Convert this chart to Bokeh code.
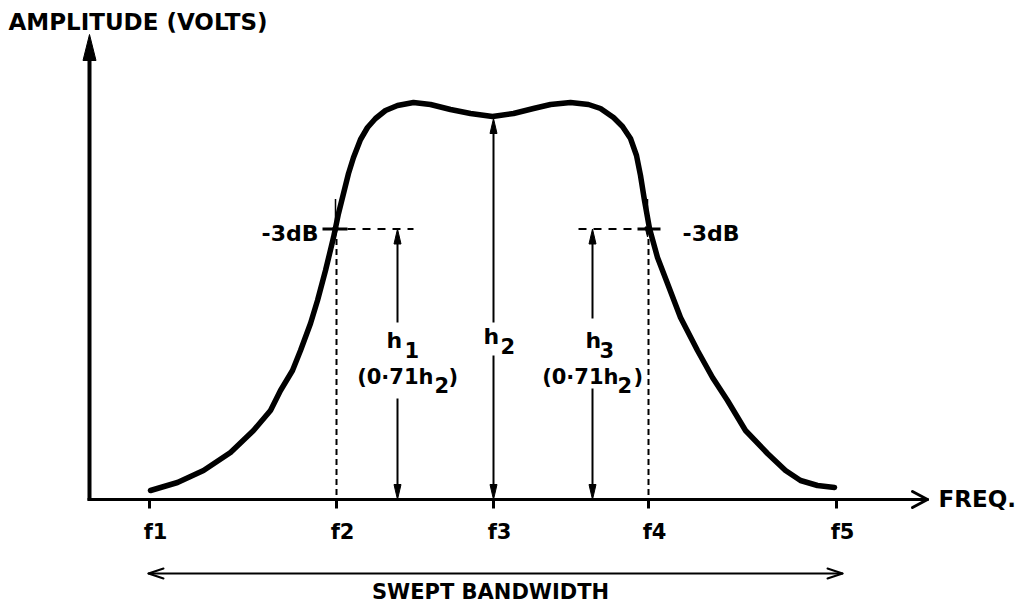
from bokeh.plotting import figure
from bokeh.models import Range1d
from bokeh.core.properties import value
from bokeh.embed import file_html
from bokeh.resources import INLINE

# ---------------- data (frequency units along x, amplitude units along y) ----------------
curve_freq = [61, 88, 114, 141, 164, 181, 191, 203, 211, 221, 228, 236, 244, 249, 254, 259,
              264, 271, 278, 286, 296, 308, 324, 341, 361, 381, 403, 424, 444, 461, 481, 499,
              511, 524, 533, 541, 547, 551, 555, 560, 568, 578, 591, 608, 623, 638, 656, 678,
              696, 711, 728, 745]
curve_amp = [9, 17, 29, 47, 69, 89, 109, 129, 149, 176, 199, 229, 262, 286, 306, 326,
             342, 360, 372, 381, 389, 394, 397, 395, 390, 386, 383, 386, 391, 395, 397, 395,
             391, 382, 373, 361, 344, 324, 299, 271, 242, 216, 182, 149, 122, 99, 69, 46,
             29, 19, 14, 12]

freq_ticks = [60, 247, 404, 559, 747]
tick_labels = ["f1", "f2", "f3", "f4", "f5"]

h2_value = 381           # amplitude at centre frequency f3
ratio_3db = 0.71         # -3 dB point = 0.71 * h2
h1_freq = 308            # where the h1 dimension arrow is drawn
h3_freq = 503            # where the h3 dimension arrow is drawn
y_axis_top = 465
x_axis_end = 838

FONT = value("DejaVu Sans")
level = ratio_3db * h2_value
DY = 7  # text baseline correction

p = figure(width=1019, height=603, output_backend="svg", toolbar_location=None,
           x_range=Range1d(-89, 930), y_range=Range1d(-104, 499),
           x_axis_location=None, y_axis_location=None, min_border=0,
           background_fill_color="white", border_fill_color="white")
p.outline_line_color = None
p.grid.visible = False


def tri(tx, ty, ux, uy, L, W):
    bx, by = tx - ux * L, ty - uy * L
    nx, ny = -uy, ux
    return [tx, bx + nx * W, bx - nx * W], [ty, by + ny * W, by - ny * W]


def vee(tx, ty, ux, uy, L, W):
    bx, by = tx - ux * L, ty - uy * L
    nx, ny = -uy, ux
    return ([[bx + nx * W, tx], [bx - nx * W, tx]], [[by + ny * W, ty], [by - ny * W, ty]])


def ty(vals):
    return [v + DY for v in vals]


# ---------------- axes ----------------
p.line([0, 0], [-1, y_axis_top - 24], line_width=4, line_color="black")
hx, hy = tri(0, y_axis_top, 0, 1, 26, 6.5)
p.patch(hx, hy, fill_color="black", line_color="black", line_width=1)
p.line([-2, x_axis_end - 1], [0, 0], line_width=3, line_color="black")
vx, vy = vee(x_axis_end, 0, 1, 0, 15, 8)
p.multi_line(vx, vy, line_width=3, line_color="black", line_cap="round")

txt = dict(text_font=FONT, text_font_style="bold", text_baseline="alphabetic", text_color="black")

# ticks
p.segment(x0=freq_ticks, y0=[0] * 5, x1=freq_ticks, y1=[-9] * 5, line_width=3, line_color="black")
p.text(x=[f + 6 for f in freq_ticks], y=ty([-39] * 5), text=tick_labels,
       text_font_size="21px", text_align="center", **txt)

# ---------------- response curve ----------------
p.line(curve_freq, curve_amp, line_width=5.5, line_color="black", line_join="round", line_cap="round")

# ---------------- -3 dB markers ----------------
f2, f4 = freq_ticks[1], freq_ticks[3]
p.segment(x0=[f2, f4], y0=[level - 10] * 2, x1=[f2, f4], y1=[0, 0],
          line_width=2, line_color="black", line_dash="6 4")
p.segment(x0=[f2 + 11, f4 - 70], y0=[level] * 2, x1=[f2 + 77, f4 - 11], y1=[level] * 2,
          line_width=2, line_color="black", line_dash="8 7")
p.segment(x0=[f2 - 14, f4 - 11], y0=[level] * 2, x1=[f2 + 11, f4 + 12], y1=[level] * 2,
          line_width=3, line_color="black")
for f in (f2, f4):
    p.line([f - 1, f - 1], [level + 30, level - 5], line_width=1.5, line_color="black")
    ax, ay = tri(f - 1, level - 8, 0, -1, 10, 2.5)
    p.patch(ax, ay, fill_color="black", line_color="black")

p.text(x=[f2 - 18], y=ty([259]), text=["-3dB"], text_font_size="22px", text_align="right", **txt)
p.text(x=[f4 + 34], y=ty([259]), text=["-3dB"], text_font_size="22px", text_align="left", **txt)

# ---------------- dimension arrows h1, h2, h3 ----------------
dims = [(h1_freq, level, 177, 101), (freq_ticks[2], h2_value, 177, 144), (h3_freq, level, 181, 111)]
for x, top, gap_top, gap_bot in dims:
    p.line([x, x], [top - 12, gap_top], line_width=2, line_color="black")
    p.line([x, x], [gap_bot, 12], line_width=2, line_color="black")
    ax, ay = tri(x, top, 0, 1, 15, 3.5)
    p.patch(ax, ay, fill_color="black", line_color="black")
    bx, by = tri(x, 0, 0, -1, 15, 3.5)
    p.patch(bx, by, fill_color="black", line_color="black")

# h symbols
p.text(x=[297, 394, 496], y=ty([152, 156, 152]), text=["h", "h", "h"], text_font_size="22px",
       text_align="left", **txt)
p.text(x=[315, 411, 510], y=ty([143, 147, 143]), text=["1", "2", "3"], text_font_size="21px",
       text_align="left", **txt)
# (0·71h2) labels
p.text(x=[344, 529], y=ty([116, 116]), text=["(0·71h", "(0·71h"], text_font_size="21px",
       text_align="right", **txt)
p.text(x=[345, 528], y=ty([108, 108]), text=["2", "2"], text_font_size="21px",
       text_align="left", **txt)
p.text(x=[359, 544], y=ty([116, 116]), text=[")", ")"], text_font_size="21px",
       text_align="left", **txt)

# ---------------- swept bandwidth ----------------
bw_left, bw_right = freq_ticks[0] - 1, freq_ticks[4] + 6
p.line([bw_left + 2, bw_right - 2], [-74, -74], line_width=2, line_color="black")
for tx, ux in ((bw_left, -1), (bw_right, 1)):
    vx, vy = vee(tx, -74, ux, 0, 15, 5)
    p.multi_line(vx, vy, line_width=2, line_color="black", line_cap="round")
p.text(x=[401], y=ty([-99]), text=["SWEPT BANDWIDTH"], text_font_size="21px", text_align="center", **txt)

# ---------------- axis titles ----------------
p.text(x=[-81], y=ty([471]), text=["AMPLITUDE (VOLTS)"], text_font_size="23px", text_align="left", **txt)
p.text(x=[849], y=ty([-6]), text=["FREQ."], text_font_size="23px", text_align="left", **txt)

open("out.html", "w").write(file_html(p, INLINE))
